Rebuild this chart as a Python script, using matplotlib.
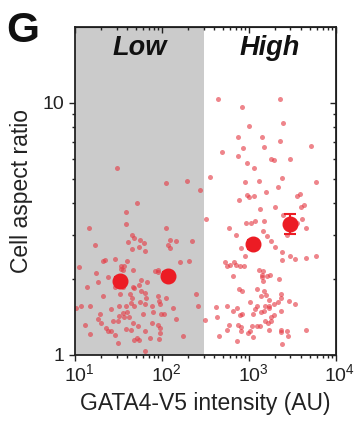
import numpy as np
import matplotlib
matplotlib.use('Agg')
import matplotlib.pyplot as plt
import matplotlib.transforms as mtransforms
from matplotlib.ticker import LogLocator, FixedLocator, NullFormatter

plt.rcParams['font.family'] = ['Liberation Sans', 'DejaVu Sans']
plt.rcParams['mathtext.fontset'] = 'custom'
plt.rcParams['mathtext.rm'] = 'Liberation Sans'

# single cells, low GATA4-V5 group
low_x = [30, 111, 193, 270, 51, 39, 39, 14.5, 110, 45, 124, 143, 219, 48, 41, 56, 62, 17,
         54, 117, 125, 45, 63, 159, 204, 21, 22, 29, 40, 11.2, 34, 37, 34, 36, 46, 17.6,
         24, 84, 89, 90, 58, 67, 54, 18.3, 13.8, 28.5, 36, 47, 48, 43, 57, 63, 33, 21,
         45, 65, 91, 111, 248, 93, 44, 56, 63, 95, 11.7, 14.8, 32, 38.5, 48, 77, 135, 261,
         10.2, 39.5, 36, 26, 98, 106, 79, 19.6, 32, 42, 60, 18.6, 20, 27, 31, 36.5, 46,
         53, 77, 91, 94, 145, 12.9, 22.6, 24, 26, 29, 38.5, 44, 64, 95, 15, 31, 48, 51,
         55, 73, 93, 174, 63]
low_y = [5.5, 4.8, 4.9, 4.5, 4.0, 3.7, 3.3, 3.2, 3.2, 3.0, 2.86, 2.84, 2.83, 2.9, 2.8,
         2.85, 2.79, 2.73, 2.68, 2.72, 2.65, 2.63, 2.59, 2.34, 2.36, 2.36, 2.39, 2.40, 2.37,
         2.24, 2.26, 2.25, 2.19, 2.18, 2.17, 2.11, 2.04, 2.16, 2.18, 2.13, 1.99, 1.94, 1.89,
         1.94, 1.86, 1.86, 1.86, 1.86, 1.85, 1.75, 1.80, 1.76, 1.74, 1.71, 1.69, 1.69, 1.72,
         1.69, 1.74, 1.64, 1.61, 1.63, 1.60, 1.60, 1.56, 1.56, 1.57, 1.57, 1.56, 1.57, 1.53,
         1.57, 1.53, 1.48, 1.47, 1.52, 1.46, 1.46, 1.48, 1.45, 1.43, 1.42, 1.46, 1.39, 1.34,
         1.37, 1.36, 1.41, 1.34, 1.30, 1.34, 1.32, 1.28, 1.39, 1.32, 1.28, 1.25, 1.25, 1.20,
         1.27, 1.26, 1.24, 1.22, 1.21, 1.12, 1.15, 1.17, 1.15, 1.17, 1.16, 1.19, 1.04]

# single cells, high GATA4-V5 group
high_x = [440, 2300, 830, 1010, 2460, 750, 1400, 2250, 850, 1500, 5100, 490, 740, 1800,
          1940, 2970, 945, 1140, 356, 2400, 900, 1310, 2150, 5900, 1550, 960, 1000, 1130,
          760, 3600, 3830, 1350, 2000, 3970, 4270, 320, 2440, 936, 1050, 1160, 1470, 4040,
          3540, 590, 710, 1430, 1610, 4500, 2715, 1770, 1970, 2400, 800, 890, 2420, 2990,
          3420, 4580, 5900, 530, 555, 670, 705, 785, 880, 600, 1310, 1450, 1420, 1420,
          1610, 1760, 650, 2230, 1460, 760, 830, 1230, 1485, 1380, 1570, 1680, 2330, 2360,
          2180, 2860, 3360, 1040, 1230, 1510, 1710, 1920, 1680, 420, 555, 720, 660, 790,
          840, 1120, 1180, 1360, 1485, 1770, 1940, 2310, 430, 590, 560, 750, 800, 810,
          1020, 970, 1070, 1220, 1335, 1540, 1650, 1800, 1680, 2310, 2330, 2760, 4580, 457,
          1100, 725, 2420, 2810, 309]
high_y = [10.4, 10.4, 9.6, 8.1, 8.3, 7.3, 7.3, 7.06, 6.6, 6.7, 6.75, 6.4, 6.16, 6.0, 5.95,
          6.0, 5.8, 5.5, 5.1, 5.04, 4.85, 4.88, 4.65, 4.85, 4.43, 4.32, 4.22, 4.27, 4.12,
          4.28, 4.35, 3.8, 3.88, 3.86, 3.95, 3.47, 3.58, 3.35, 3.35, 3.40, 3.40, 3.46, 3.34,
          3.19, 2.99, 3.09, 2.96, 3.19, 3.0, 2.84, 2.68, 2.56, 2.65, 2.47, 2.39, 2.47, 2.41,
          2.42, 2.46, 2.33, 2.26, 2.33, 2.28, 2.26, 2.26, 2.27, 2.18, 2.15, 2.08, 2.03, 2.06,
          2.07, 2.05, 2.01, 1.96, 1.82, 1.79, 1.82, 1.80, 1.71, 1.73, 1.65, 1.74, 1.69, 1.63,
          1.64, 1.60, 1.62, 1.56, 1.56, 1.57, 1.60, 1.53, 1.55, 1.56, 1.53, 1.50, 1.44, 1.46,
          1.46, 1.52, 1.48, 1.50, 1.42, 1.44, 1.50, 1.41, 1.31, 1.26, 1.31, 1.29, 1.25, 1.24,
          1.22, 1.30, 1.30, 1.30, 1.36, 1.34, 1.37, 1.26, 1.26, 1.23, 1.24, 1.26, 1.19, 1.18,
          1.14, 1.11, 1.19, 1.38]

# binned means with error bars
mean_x = [32.5, 117, 1100, 2970]
mean_y = [1.97, 2.06, 2.75, 3.32]
mean_err = [0.07, 0.08, 0.12, 0.3]

gate = 300  # low / high threshold

fig = plt.figure(figsize=(3.58, 4.29), dpi=100)
ax = fig.add_axes([0.2095, 0.1725, 0.729, 0.7645])

ax.axvspan(10, gate, color='#cbcbcb', lw=0, zorder=0)
ax.plot(low_x, low_y, 'o', ms=3.6, color='#e53a44', alpha=0.62, mec='none', zorder=2)
ax.plot(high_x, high_y, 'o', ms=3.6, color='#e53a44', alpha=0.62, mec='none', zorder=2)
ax.errorbar(mean_x, mean_y, yerr=mean_err, fmt='o', ms=10.5, color='#ec1c24',
            ecolor='#ec1c24', elinewidth=1.5, capsize=4, capthick=1.5, zorder=4)

ax.set_xscale('log')
ax.set_yscale('log')
ax.set_xlim(10, 1e4)
ax.set_ylim(1, 20)

ax.xaxis.set_major_locator(FixedLocator([10, 100, 1000, 10000]))
ax.xaxis.set_minor_locator(LogLocator(base=10, subs=np.arange(2, 10)))
ax.xaxis.set_minor_formatter(NullFormatter())
ax.set_xticklabels([r'$\mathregular{10^{1}}$', r'$\mathregular{10^{2}}$',
                    r'$\mathregular{10^{3}}$', r'$\mathregular{10^{4}}$'])
ax.yaxis.set_major_locator(FixedLocator([1, 10]))
ax.yaxis.set_minor_locator(FixedLocator([2, 3, 4, 5, 6, 7, 8, 9]))
ax.yaxis.set_minor_formatter(NullFormatter())
ax.set_yticklabels(['1', '10'])

ax.tick_params(which='both', direction='out', top=False, right=False, labelsize=14,
               width=1.0, colors='#222222')
ax.tick_params(axis='x', which='major', length=4.5, pad=1.5)
ax.tick_params(axis='y', which='major', length=4.5, pad=3)
ax.tick_params(which='minor', length=2.5)
for s in ax.spines.values():
    s.set_linewidth(1.3)
    s.set_color('#222222')

# x tick labels: centre the "10" on the tick, exponent hangs to the right
shift = mtransforms.ScaledTranslation(4 / 100, 0, fig.dpi_scale_trans)
for lab in ax.get_xticklabels():
    lab.set_transform(lab.get_transform() + shift)

# inward ticks on the top and right edges
tx = ax.secondary_xaxis('top')
tx.set_xscale('log')
tx.xaxis.set_major_locator(FixedLocator([10, 100, 1000, 10000]))
tx.xaxis.set_minor_locator(LogLocator(base=10, subs=np.arange(2, 10)))
tx.tick_params(which='both', direction='in', labeltop=False, width=1.0, colors='#222222')
tx.tick_params(which='major', length=4.5)
tx.tick_params(which='minor', length=2.5)
ty = ax.secondary_yaxis('right')
ty.set_yscale('log')
ty.yaxis.set_major_locator(FixedLocator([1, 10]))
ty.yaxis.set_minor_locator(FixedLocator([2, 3, 4, 5, 6, 7, 8, 9]))
ty.tick_params(which='both', direction='in', labelright=False, width=1.0, colors='#222222')
ty.tick_params(which='major', length=4.5)
ty.tick_params(which='minor', length=2.5)

ax.set_xlabel('GATA4-V5 intensity (AU)', fontsize=16.5, color='#222222', labelpad=5)
ax.set_ylabel('Cell aspect ratio', fontsize=16.5, color='#222222', labelpad=7)

ax.text(0.249, 0.937, 'Low', transform=ax.transAxes, ha='center', va='center',
        fontsize=19.5, fontweight='bold', fontstyle='italic', color='#111111')
ax.text(0.747, 0.937, 'High', transform=ax.transAxes, ha='center', va='center',
        fontsize=19.5, fontweight='bold', fontstyle='italic', color='#111111')
fig.text(0.064, 0.928, 'G', ha='center', va='center', fontsize=30.5, fontweight='bold',
         color='#111111')

fig.savefig('out.png', dpi=100)
